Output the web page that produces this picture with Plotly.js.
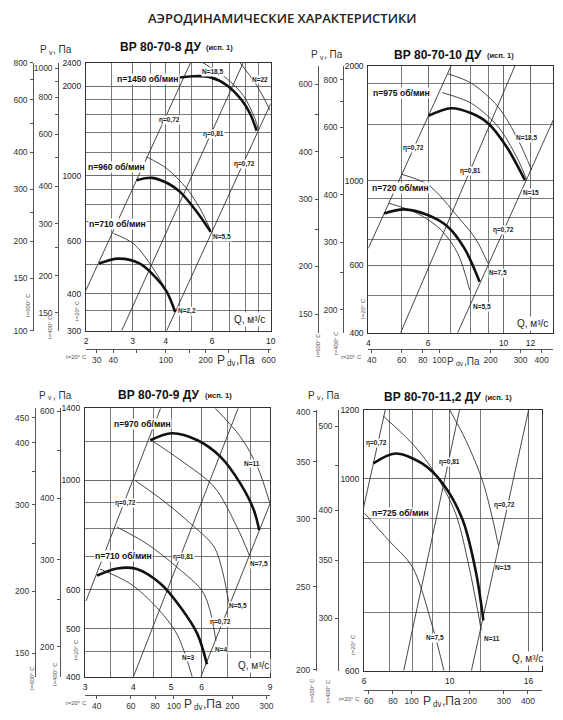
<!DOCTYPE html>
<html><head><meta charset="utf-8">
<script src="https://cdn.plot.ly/plotly-3.0.1.min.js"></script>
<style>html,body{margin:0;padding:0;background:#fff}#c{width:563px;height:720px}</style>
</head><body><div id="c"></div>
<script>
// ---------------- DATA ----------------
// Panel 1: ВР 80-70-8 ДУ
const p1_q_range = [2, 10];
const p1_p_range = [300, 2400];
const p1_q_grid = [2, 2.5, 3, 3.5, 4, 4.5, 5, 6, 7, 8, 9, 10];
const p1_q_ticks = [2, 3, 4, 6, 10];
const p1_p_grid = [300, 350, 400, 500, 600, 700, 800, 900, 1000, 1200, 1400, 1600, 1800, 2000, 2400];
const p1_p_ticks = [300, 400, 600, 1000, 2000, 2400];
const p1_t600_range = [100, 800];
const p1_t600_minor = [100, 150, 200, 250, 300, 400, 500, 600, 700, 800];
const p1_t600_ticks = [100, 150, 200, 300, 400, 600, 800];
const p1_t400_range = [130.6, 1045];
const p1_t400_minor = [150, 200, 250, 300, 400, 500, 600, 700, 800, 900, 1000];
const p1_t400_ticks = [150, 200, 300, 400, 600, 800, 1000];
const p1_pdv_range = [24.9, 622];
const p1_pdv_minor = [30, 40, 60, 100, 150, 200, 300, 600];
const p1_pdv_ticks = [30, 40, 100, 200, 600];
const p1_n1450_q = [4.54, 5.10, 5.89, 6.82, 7.77, 8.35, 8.85];
const p1_n1450_p = [2139, 2161, 2146, 2015, 1793, 1618, 1415];
const p1_n1450b_q = [5.54, 6.82, 7.88, 8.72, 8.98];
const p1_n1450b_p = [2400, 2122, 1860, 1556, 1429];
const p1_n22_q = [7.65, 8.85, 9.94];
const p1_n22_p = [2400, 2015, 1660];
const p1_n960_q = [3.11, 3.55, 4.09, 4.54, 5.25, 5.93];
const p1_n960_p = [964, 982, 940, 881, 755, 646];
const p1_n960b_q = [3.39, 4.04, 4.81, 5.40, 5.93];
const p1_n960b_p = [1156, 1056, 904, 774, 654];
const p1_n710_q = [2.24, 2.65, 3.20, 3.70, 4.04, 4.35];
const p1_n710_p = [505, 525, 505, 450, 406, 347];
const p1_n710b_q = [2.54, 3.02, 3.49, 3.92, 4.35];
const p1_n710b_p = [638, 590, 505, 427, 352];
const p1_eta1_q = [2, 5.02], p1_eta1_p = [411, 2443];
const p1_eta2_q = [2.73, 7.88], p1_eta2_p = [300, 2406];
const p1_eta3_q = [4.04, 10], p1_eta3_p = [300, 1748];

// Panel 2: ВР 80-70-10 ДУ
const p2_q_range = [4, 14];
const p2_p_range = [400, 2000];
const p2_q_grid = [4, 5, 6, 7, 8, 9, 10, 12, 14];
const p2_q_ticks = [4, 6, 10, 12];
const p2_p_grid = [400, 500, 600, 700, 800, 900, 1000, 1400, 1800, 2000];
const p2_p_ticks = [400, 600, 1000, 2000];
const p2_t600_range = [134, 672];
const p2_t600_minor = [150, 200, 250, 300, 400, 500, 600];
const p2_t600_ticks = [150, 200, 300, 400, 600];
const p2_t400_range = [174, 870];
const p2_t400_minor = [200, 250, 300, 400, 500, 600, 700, 800];
const p2_t400_ticks = [200, 300, 400, 600, 800];
const p2_pdv_range = [38.2, 468];
const p2_pdv_minor = [40, 60, 80, 100, 200, 300, 400];
const p2_pdv_ticks = [40, 60, 80, 100, 200, 300, 400];
const p2_n975_q = [6.01, 7.01, 8.04, 9.0, 10.2, 11.55];
const p2_n975_p = [1479, 1548, 1501, 1414, 1227, 1003];
const p2_n975a_q = [6.85, 8.04, 9.63, 11.04, 12.09];
const p2_n975a_p = [1906, 1799, 1562, 1277, 1066];
const p2_n975b_q = [6.6, 8.04, 9.63, 11.04, 11.69];
const p2_n975b_p = [1700, 1594, 1385, 1132, 1004];
const p2_n720_q = [4.45, 5.10, 5.98, 6.85, 7.67, 8.5];
const p2_n720_p = [821, 841, 813, 758, 665, 544];
const p2_n720a_q = [5.0, 6.0, 7.33, 8.31, 8.99];
const p2_n720a_p = [1040, 975, 805, 700, 608];
const p2_n720b_q = [4.60, 5.58, 6.55, 7.33, 7.95];
const p2_n720b_p = [873, 821, 743, 645, 517];
const p2_eta1_q = [4, 7.01], p2_eta1_p = [665, 2000];
const p2_eta2_q = [4.98, 10.8], p2_eta2_p = [400, 2000];
const p2_eta3_q = [7.33, 14], p2_eta3_p = [400, 1442];

// Panel 3: ВР 80-70-9 ДУ
const p3_q_range = [3, 9];
const p3_p_range = [400, 1400];
const p3_q_grid = [3, 3.5, 4, 4.5, 5, 6, 7, 8, 9];
const p3_q_ticks = [3, 4, 5, 6, 9];
const p3_p_grid = [400, 450, 500, 600, 700, 800, 900, 1000, 1200, 1400];
const p3_p_ticks = [400, 500, 600, 1000, 1400];
const p3_t600_range = [134.4, 470];
const p3_t600_minor = [150, 200, 250, 300, 350, 400, 450];
const p3_t600_ticks = [150, 200, 300, 400, 450];
const p3_t400_range = [174, 609];
const p3_t400_minor = [200, 250, 300, 400, 500, 600];
const p3_t400_ticks = [200, 300, 400, 600];
const p3_pdv_range = [34.8, 313];
const p3_pdv_minor = [40, 60, 80, 100, 200, 300];
const p3_pdv_ticks = [40, 60, 80, 100, 200, 300];
const p3_n970_q = [4.42, 5.02, 5.85, 6.71, 7.55, 8.18, 8.44];
const p3_n970_p = [1206, 1246, 1206, 1116, 985, 870, 792];
const p3_n970a_q = [4.42, 5.29, 6.46, 7.40, 7.97];
const p3_n970a_p = [1210, 1099, 970, 804, 704];
const p3_n970b_q = [6.5, 7.55, 8.36, 9.0];
const p3_n970b_p = [1400, 1226, 1064, 897];
const p3_n710_q = [3.22, 3.63, 4.08, 4.70, 5.29, 5.85, 6.19];
const p3_n710_p = [641, 663, 661, 617, 553, 488, 424];
const p3_n710c_q = [4.04, 4.77, 5.61, 6.46, 6.8, 7.07];
const p3_n710c_p = [1000, 910, 818, 733, 650, 557];
const p3_n710d_q = [3.63, 4.33, 5.18, 6.08, 6.53];
const p3_n710d_p = [804, 744, 667, 589, 473];
const p3_n710e_q = [3.28, 3.93, 4.59, 5.18, 5.67];
const p3_n710e_p = [661, 617, 553, 488, 400];
const p3_eta1_q = [3.02, 4.70], p3_eta1_p = [570, 1400];
const p3_eta2_q = [4.0, 7.45], p3_eta2_p = [400, 1400];
const p3_eta3_q = [5.97, 9.0], p3_eta3_p = [400, 897];

// Panel 4: ВР 80-70-11,2 ДУ
const p4_q_range = [6, 17.3];
const p4_p_range = [600, 1200];
const p4_q_grid = [6, 7, 8, 9, 10, 12, 16];
const p4_q_ticks = [6, 10, 16];
const p4_p_grid = [600, 700, 800, 900, 1000, 1200];
const p4_p_ticks = [600, 1000, 1200];
const p4_t600_range = [199.5, 402];
const p4_t600_minor = [200, 250, 300, 350, 400];
const p4_t600_ticks = [200, 250, 300, 350, 400];
const p4_t400_range = [261, 522];
const p4_t400_minor = [300, 350, 400, 450, 500];
const p4_t400_ticks = [300, 350, 400, 500];
const p4_pdv_range = [56.7, 471];
const p4_pdv_minor = [60, 80, 100, 200, 300, 400];
const p4_pdv_ticks = [60, 80, 100, 200, 300, 400];
const p4_n725_q = [6.34, 7.23, 8.48, 9.59, 10.81, 11.71, 12.22];
const p4_n725_p = [1041, 1069, 1041, 987, 895, 777, 686];
const p4_n725a_q = [6.73, 8.13, 9.17, 10.35, 11.22, 12.07];
const p4_n725a_p = [1181, 1089, 1013, 912, 791, 668];
const p4_n725b_q = [6.02, 6.94, 8.0, 9.03, 9.66];
const p4_n725b_p = [912, 849, 791, 674, 600];
const p4_n725c_q = [10, 11.0, 12.22, 13.37];
const p4_n725c_p = [1200, 1108, 987, 837];
const p4_eta1_q = [5.9, 6.81], p4_eta1_p = [900, 1200];
const p4_eta2_q = [7.6, 10.6], p4_eta2_p = [600, 1200];
const p4_eta3_q = [11.38, 16.0], p4_eta3_p = [600, 1200];

// ---------------- DRAWING ----------------
const W = 563, H = 720;
const FONT = 'Liberation Sans, Arial, sans-serif';
const L = v => Math.log10(v);
const fx = x => x / W, fy = y => 1 - y / H;
const S = a => a.map(v => String(v));

const THICK = {color: '#111', width: 2.6, shape: 'spline', smoothing: 0.9};
const THIN = {color: '#333', width: 0.9, shape: 'spline', smoothing: 0.9};
const STRAIGHT = {color: '#333', width: 0.9};

const traces = [];
function tr(ax, q, p, line) {
  traces.push({type: 'scatter', mode: 'lines', x: q, y: p, xaxis: ax[0], yaxis: ax[1],
               line: line, hoverinfo: 'skip', showlegend: false});
}
function dummy(xa, ya) {
  traces.push({type: 'scatter', mode: 'lines', x: [], y: [], xaxis: xa, yaxis: ya, showlegend: false, hoverinfo: 'skip'});
}

const layout = {width: W, height: H, margin: {l: 0, r: 0, t: 0, b: 0}, paper_bgcolor: '#fff',
  plot_bgcolor: '#fff', showlegend: false, font: {family: FONT, color: '#222'}, annotations: []};

function mainAxis(range, grid, ticks, domain, anchor) {
  return {type: 'log', range: [L(range[0]), L(range[1])], domain: domain, anchor: anchor,
    tickmode: 'array', tickvals: ticks, ticktext: S(ticks), ticks: '', showgrid: true,
    gridcolor: '#6a6a6a', gridwidth: 0.9,
    minor: {tickmode: 'array', tickvals: grid, showgrid: true, gridcolor: '#6a6a6a', gridwidth: 0.9, ticks: ''},
    showline: true, mirror: true, linecolor: '#333',
    linewidth: 1, zeroline: false, fixedrange: true, ticklabelstandoff: 2,
    tickfont: {family: FONT, size: 8.5, color: '#222'}};
}
function secY(range, minor, ticks, over, pos) {
  return {type: 'log', range: [L(range[0]), L(range[1])], overlaying: over, anchor: 'free',
    position: pos, side: 'left', tickmode: 'array', tickvals: ticks, ticktext: S(ticks),
    ticks: 'outside', ticklen: 3, tickwidth: 1, tickcolor: '#555', showgrid: false,
    minor: {tickmode: 'array', tickvals: minor, ticks: 'outside', ticklen: 3, tickwidth: 1, tickcolor: '#555', showgrid: false},
    showline: true, linecolor: '#555', linewidth: 1, zeroline: false, fixedrange: true,
    ticklabelstandoff: 1, tickfont: {family: FONT, size: 8.5, color: '#333'}};
}
function secX(range, minor, ticks, over, pos) {
  return {type: 'log', range: [L(range[0]), L(range[1])], overlaying: over, anchor: 'free',
    position: pos, side: 'bottom', tickmode: 'array', tickvals: ticks, ticktext: S(ticks),
    ticks: 'outside', ticklen: 3, tickwidth: 1, tickcolor: '#555', showgrid: false,
    minor: {tickmode: 'array', tickvals: minor, ticks: 'outside', ticklen: 3, tickwidth: 1, tickcolor: '#555', showgrid: false},
    showline: true, linecolor: '#555', linewidth: 1, zeroline: false, fixedrange: true,
    ticklabelstandoff: 0, tickfont: {family: FONT, size: 8.5, color: '#333'}};
}
function A(text, x, y, o) {
  const a = {text: text, xref: 'paper', yref: 'paper', x: fx(x), y: fy(y), showarrow: false,
    xanchor: 'center', yanchor: 'middle', font: {family: FONT, size: 7, color: '#222'}};
  layout.annotations.push(Object.assign(a, o || {}));
}
function lab(t, x, y) { A(t, x, y, {font: {family: FONT, size: 6.5, color: '#222', weight: 700}, bgcolor: '#fff', borderpad: 0}); }
function nlab(t, x, y) { A(t, x, y, {font: {family: FONT, size: 8.6, color: '#111', weight: 700}, bgcolor: '#fff', borderpad: 0}); }
function rot(t, x, y) { A(t, x, y, {textangle: -90, font: {family: FONT, size: 6, color: '#555'}}); }
// "P" + small subscript + rest, built from separate plain texts
function psub(sub, rest, x, y, size, subW, bg) {
  const f = s => ({family: FONT, size: s, color: '#333'});
  const base = {borderpad: 0};
  const bgc = bg ? {bgcolor: '#fff'} : {};
  A('P', x, y, Object.assign({xanchor: 'right', font: f(size)}, base, bgc));
  A(sub, x - 0.3, y + size * 0.28, Object.assign({xanchor: 'left', font: f(size * 0.68)}, base));
  A(rest, x + subW - 0.5, y, Object.assign({xanchor: 'left', font: f(size)}, base, bgc));
}

// panel geometry (pixels)
const P = [
  {px: [86, 270.7], py: [62.7, 330.7], t600: 33.3, t400: 58.3, pdv: 349},
  {px: [368.3, 553.3], py: [65.7, 332.7], t600: 318.3, t400: 343.3, pdv: 349},
  {px: [85, 270], py: [408.3, 676.7], t600: 35, t400: 60, pdv: 695},
  {px: [364, 541.7], py: [410, 670.7], t600: 316, t400: 338.3, pdv: 690}
];
const DATA = [
  {qr: p1_q_range, pr: p1_p_range, qg: p1_q_grid, qt: p1_q_ticks, pg: p1_p_grid, pt: p1_p_ticks,
   t6: [p1_t600_range, p1_t600_minor, p1_t600_ticks], t4: [p1_t400_range, p1_t400_minor, p1_t400_ticks],
   pd: [p1_pdv_range, p1_pdv_minor, p1_pdv_ticks]},
  {qr: p2_q_range, pr: p2_p_range, qg: p2_q_grid, qt: p2_q_ticks, pg: p2_p_grid, pt: p2_p_ticks,
   t6: [p2_t600_range, p2_t600_minor, p2_t600_ticks], t4: [p2_t400_range, p2_t400_minor, p2_t400_ticks],
   pd: [p2_pdv_range, p2_pdv_minor, p2_pdv_ticks]},
  {qr: p3_q_range, pr: p3_p_range, qg: p3_q_grid, qt: p3_q_ticks, pg: p3_p_grid, pt: p3_p_ticks,
   t6: [p3_t600_range, p3_t600_minor, p3_t600_ticks], t4: [p3_t400_range, p3_t400_minor, p3_t400_ticks],
   pd: [p3_pdv_range, p3_pdv_minor, p3_pdv_ticks]},
  {qr: p4_q_range, pr: p4_p_range, qg: p4_q_grid, qt: p4_q_ticks, pg: p4_p_grid, pt: p4_p_ticks,
   t6: [p4_t600_range, p4_t600_minor, p4_t600_ticks], t4: [p4_t400_range, p4_t400_minor, p4_t400_ticks],
   pd: [p4_pdv_range, p4_pdv_minor, p4_pdv_ticks]}
];
const AX = [];
for (let i = 0; i < 4; i++) {
  const g = P[i], d = DATA[i], k = i + 1;
  const xn = k === 1 ? 'xaxis' : 'xaxis' + k, yn = k === 1 ? 'yaxis' : 'yaxis' + k;
  const xid = k === 1 ? 'x' : 'x' + k, yid = k === 1 ? 'y' : 'y' + k;
  layout[xn] = mainAxis(d.qr, d.qg, d.qt, [fx(g.px[0]), fx(g.px[1])], yid);
  layout[yn] = mainAxis(d.pr, d.pg, d.pt, [fy(g.py[1]), fy(g.py[0])], xid);
  const y6 = 4 + 2 * i + 1, y4 = 4 + 2 * i + 2, xp = 4 + k;
  layout['yaxis' + y6] = secY(d.t6[0], d.t6[1], d.t6[2], yid, fx(g.t600));
  layout['yaxis' + y4] = secY(d.t4[0], d.t4[1], d.t4[2], yid, fx(g.t400));
  layout['xaxis' + xp] = secX(d.pd[0], d.pd[1], d.pd[2], xid, fy(g.pdv));
  dummy(xid, 'y' + y6); dummy(xid, 'y' + y4); dummy('x' + xp, yid);
  AX.push([xid, yid]);
}

// Panel 1 marks
tr(AX[0], p1_eta1_q, p1_eta1_p, STRAIGHT);
tr(AX[0], p1_eta2_q, p1_eta2_p, STRAIGHT);
tr(AX[0], p1_eta3_q, p1_eta3_p, STRAIGHT);
tr(AX[0], p1_n1450b_q, p1_n1450b_p, THIN);
tr(AX[0], p1_n22_q, p1_n22_p, THIN);
tr(AX[0], p1_n960b_q, p1_n960b_p, THIN);
tr(AX[0], p1_n710b_q, p1_n710b_p, THIN);
tr(AX[0], p1_n1450_q, p1_n1450_p, THICK);
tr(AX[0], p1_n960_q, p1_n960_p, THICK);
tr(AX[0], p1_n710_q, p1_n710_p, THICK);
// Panel 2 marks
tr(AX[1], p2_eta1_q, p2_eta1_p, STRAIGHT);
tr(AX[1], p2_eta2_q, p2_eta2_p, STRAIGHT);
tr(AX[1], p2_eta3_q, p2_eta3_p, STRAIGHT);
tr(AX[1], p2_n975a_q, p2_n975a_p, THIN);
tr(AX[1], p2_n975b_q, p2_n975b_p, THIN);
tr(AX[1], p2_n720a_q, p2_n720a_p, THIN);
tr(AX[1], p2_n720b_q, p2_n720b_p, THIN);
tr(AX[1], p2_n975_q, p2_n975_p, THICK);
tr(AX[1], p2_n720_q, p2_n720_p, THICK);
// Panel 3 marks
tr(AX[2], p3_eta1_q, p3_eta1_p, STRAIGHT);
tr(AX[2], p3_eta2_q, p3_eta2_p, STRAIGHT);
tr(AX[2], p3_eta3_q, p3_eta3_p, STRAIGHT);
tr(AX[2], p3_n970a_q, p3_n970a_p, THIN);
tr(AX[2], p3_n970b_q, p3_n970b_p, THIN);
tr(AX[2], p3_n710c_q, p3_n710c_p, THIN);
tr(AX[2], p3_n710d_q, p3_n710d_p, THIN);
tr(AX[2], p3_n710e_q, p3_n710e_p, THIN);
tr(AX[2], p3_n970_q, p3_n970_p, THICK);
tr(AX[2], p3_n710_q, p3_n710_p, THICK);
// Panel 4 marks
tr(AX[3], p4_eta1_q, p4_eta1_p, STRAIGHT);
tr(AX[3], p4_eta2_q, p4_eta2_p, STRAIGHT);
tr(AX[3], p4_eta3_q, p4_eta3_p, STRAIGHT);
tr(AX[3], p4_n725a_q, p4_n725a_p, THIN);
tr(AX[3], p4_n725b_q, p4_n725b_p, THIN);
tr(AX[3], p4_n725c_q, p4_n725c_p, THIN);
tr(AX[3], p4_n725_q, p4_n725_p, THICK);

// ---------------- TEXT ----------------
A('АЭРОДИНАМИЧЕСКИЕ ХАРАКТЕРИСТИКИ', 283, 18, {font: {family: 'Open Sans, sans-serif', size: 13, color: '#222', weight: 600}});
const titles = [['ВР 80-70-8 ДУ', 160, 47, 219], ['ВР 80-70-10 ДУ', 438, 55, 500],
                ['ВР 80-70-9 ДУ', 158, 395, 218], ['ВР 80-70-11,2 ДУ', 432, 397, 498]];
titles.forEach(t => {
  A('<b>' + t[0] + '</b>', t[1], t[2], {font: {family: FONT, size: 12, color: '#111'}});
  A('<b>(исп. 1)</b>', t[3], t[2] + 0.5, {font: {family: FONT, size: 7.5, color: '#222'}});
});
// Pv labels
[[48, 50], [319, 55], [47.5, 395], [316, 395]].forEach(p => psub('v', ', Па', p[0], p[1], 10, 4.6, false));
// Pdv labels: [x, y, font size, subscript width]
[[226, 360, 12, 9.5], [455, 361, 10, 8], [193, 704, 12, 9.5], [432, 701, 12, 9.5]].forEach(p => psub('dv', ',Па', p[0], p[1], p[2], p[3], true));
// Q labels
[[249, 319], [532, 324], [253, 665], [527, 658]].forEach(p => A('Q, м³/с', p[0], p[1], {font: {family: FONT, size: 10, color: '#222'}, bgcolor: '#fff', borderpad: 1}));
const T6 = {font: {family: FONT, size: 6, color: '#555'}};
rot('t=600° C', 28, 305); rot('t=400° C', 50, 327); rot('t=20° C', 77, 310); A('t=20° C', 76, 357, T6);
rot('t=600° C', 318, 345); rot('t=400° C', 336, 343); rot('t=20° C', 363, 309); A('t=20° C', 351, 357, T6);
rot('t=600° C', 32, 678); rot('t=400° C', 55, 674); rot('t=20° C', 76, 650); A('t=20° C', 76, 703, T6);
rot('t=600° C', 312, 690); rot('t=400° C', 328, 691); rot('t=20° C', 353, 645); A('t=20° C', 349, 699, T6);

// Panel 1 labels
nlab('n=1450 об/мин', 148, 79); nlab('n=960 об/мин', 116, 167); nlab('n=710 об/мин', 117, 224);
lab('η=0,72', 169, 120); lab('η=0,81', 213, 134); lab('η=0,72', 244, 164);
lab('N=18,5', 213, 72); lab('N=22', 260, 79); lab('N=5,5', 222, 237); lab('N=2,2', 187, 311);
// Panel 2 labels
nlab('n=975 об/мин', 401, 93); nlab('n=720 об/мин', 400, 188);
lab('η=0,72', 413, 148); lab('η=0,81', 470, 171); lab('η=0,72', 503, 230);
lab('N=18,5', 527, 138); lab('N=15', 531, 193); lab('N=7,5', 498, 273); lab('N=5,5', 482, 307);
// Panel 3 labels
nlab('n=970 об/мин', 142, 424); nlab('n=710 об/мин', 123, 556);
lab('η=0,72', 125, 503); lab('η=0,81', 183, 557); lab('η=0,72', 220, 622);
lab('N=11', 252, 463); lab('N=7,5', 259, 564); lab('N=5,5', 238, 606); lab('N=4', 221, 649); lab('N=3', 188, 657);
// Panel 4 labels
nlab('n=725 об/мин', 400, 513);
lab('η=0,72', 376, 443); lab('η=0,81', 449, 462); lab('η=0,72', 504, 505);
lab('N=15', 503, 567); lab('N=11', 492, 638); lab('N=7,5', 435, 638);

Plotly.newPlot('c', traces, layout, {staticPlot: true, displayModeBar: false});
</script></body></html>
